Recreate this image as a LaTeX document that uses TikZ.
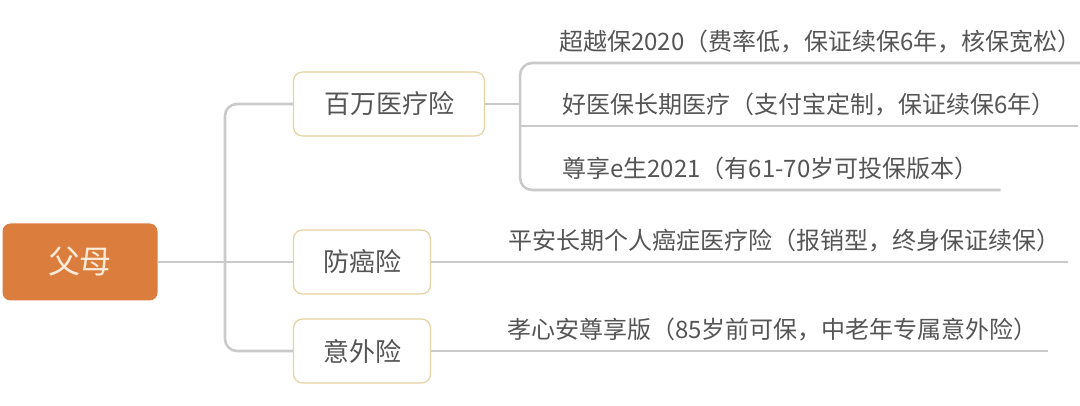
\documentclass[tikz,border=0pt]{standalone}
\usepackage{fontspec}
\setmainfont{Noto Sans CJK SC}
\usetikzlibrary{positioning}
\definecolor{rootfill}{HTML}{DB7E3D}
\definecolor{rootfont}{HTML}{FBEBD8}
\definecolor{boxline}{HTML}{E6D2A2}
\definecolor{linkgray}{HTML}{CACACA}
\definecolor{textgray}{HTML}{555555}
\tikzset{
  rootbox/.style={fill=rootfill, rounded corners=8pt, text=rootfont, minimum width=155pt, minimum height=77pt, font=\fontsize{32}{36}\selectfont},
  topic/.style={draw=boxline, line width=1.2pt, rounded corners=9pt, fill=white, text=textgray, minimum height=64pt, font=\fontsize{26}{30}\selectfont},
  leaf/.style={anchor=south west, inner xsep=22pt, inner ysep=7pt, text height=18pt, text depth=5pt, text=textgray, font=\fontsize{24}{28}\selectfont},
  link/.style={draw=linkgray, line width=2.6pt},
}

\begin{document}
\begin{tikzpicture}[x=1pt,y=1pt]
    \useasboundingbox (0,0) rectangle (1080,406);
    \node[rootbox] (root) at (80,144) {父母};
    \node[topic, minimum width=191pt] (mill) at (389,302) {百万医疗险};
    \node[topic, minimum width=137pt] (cancer) at (362,144) {防癌险};
    \node[topic, minimum width=137pt] (accid) at (362,55) {意外险};
    \coordinate (trunk) at (225,144);
    \coordinate[right=35pt of mill.east] (sub);
    \coordinate (edge) at (1080,343);
    \node[leaf, inner xsep=3pt] (chaoyue) at (556,343) {超越保2020（费率低，保证续保6年，核保宽松）};
    \node[leaf] (haoyi) at (540,280) {好医保长期医疗（支付宝定制，保证续保6年）};
    \node[leaf] (zunxiang) at (540,216) {尊享e生2021（有61-70岁可投保版本）};
    \node[leaf, inner xsep=8pt] (pingan) at (500,144) {平安长期个人癌症医疗险（报销型，终身保证续保）};
    \node[leaf, inner xsep=10pt] (xiaoxin) at (497,55) {孝心安尊享版（85岁前可保，中老年专属意外险）};
    \draw[link] (root.east) -- (cancer.west);
    \draw[link, rounded corners=12pt] (mill.west) -| (trunk) |- (accid.west);
    \draw[link] (mill.east) -- (sub);
    \draw[link, rounded corners=12pt] (edge) -| (sub) |- (zunxiang.south east);
    \draw[link] (sub |- haoyi.south) -- (haoyi.south east);
    \draw[link] (cancer.east) -- (pingan.south east);
    \draw[link] (accid.east) -- (xiaoxin.south east);
\end{tikzpicture}
\end{document}
